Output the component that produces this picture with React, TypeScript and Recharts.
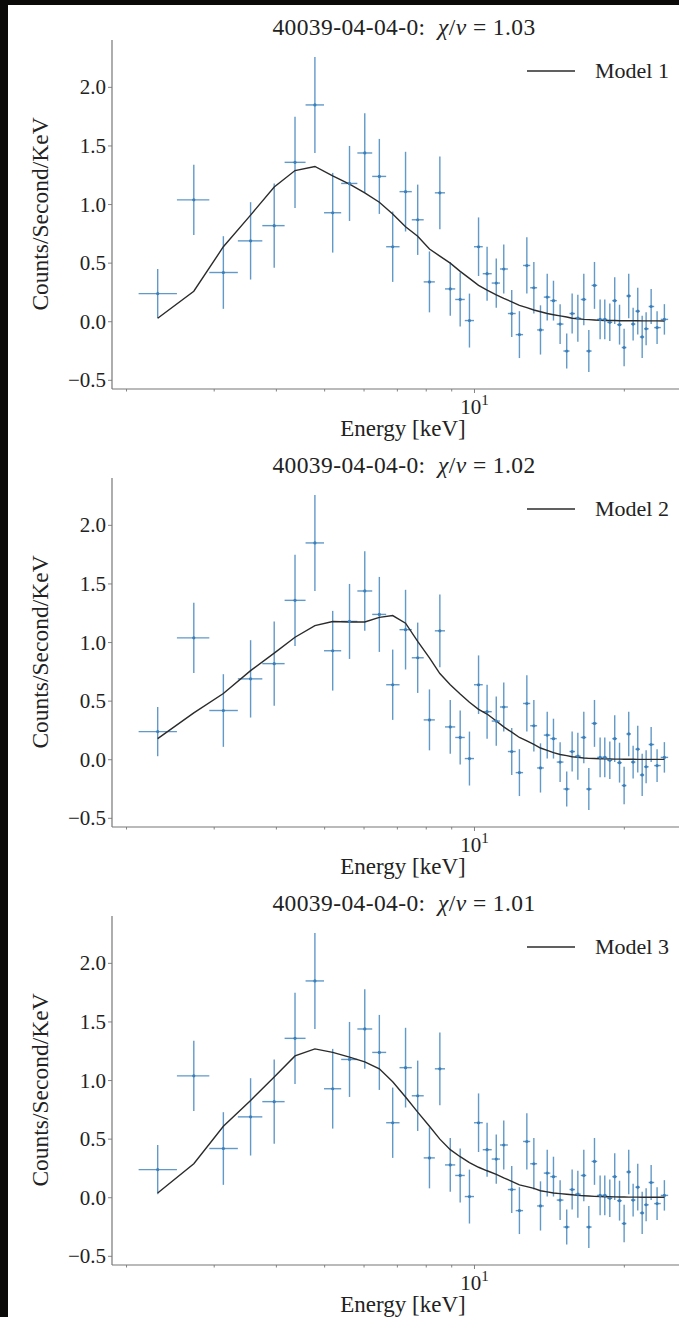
import React from "react";
import { ComposedChart, Scatter, ErrorBar, Line, XAxis, YAxis, Legend } from "recharts";

// bin centres [keV] and bin edges
const energy = [
  2.31, 2.73, 3.13, 3.55, 3.96, 4.36, 4.78, 5.19, 5.61, 6.02,
  6.44, 6.85, 7.27, 7.69, 8.12, 8.52, 8.94, 9.36, 9.77, 10.19,
  10.6, 11.06, 11.45, 11.88, 12.31, 12.74, 13.16, 13.57, 14.0, 14.41,
  14.86, 15.32, 15.71, 16.13, 16.58, 16.97, 17.42, 17.88, 18.27, 18.7,
  19.13, 19.56, 19.98, 20.41, 20.83, 21.28, 21.72, 22.12, 22.64, 23.27,
  24.07,
];
const binEdges = [
  2.115, 2.525, 2.933, 3.347, 3.748, 4.155, 4.578, 4.986, 5.398, 5.817,
  6.231, 6.646, 7.07, 7.483, 7.907, 8.325, 8.726, 9.147, 9.561, 9.977,
  10.39, 10.83, 11.25, 11.67, 12.1, 12.52, 12.94, 13.36, 13.78, 14.2,
  14.63, 15.09, 15.52, 15.92, 16.35, 16.77, 17.19, 17.64, 18.07, 18.48,
  18.91, 19.34, 19.76, 20.19, 20.62, 21.05, 21.49, 21.92, 22.38, 22.96,
  23.67, 24.49,
];
const counts = [
  0.24, 1.04, 0.42, 0.69, 0.82, 1.36, 1.85, 0.93, 1.18, 1.44,
  1.24, 0.64, 1.11, 0.87, 0.34, 1.1, 0.28, 0.19, 0.01, 0.64,
  0.41, 0.33, 0.45, 0.07, -0.11, 0.48, 0.29, -0.07, 0.21, 0.18,
  -0.02, -0.25, 0.07, 0.03, 0.19, -0.25, 0.31, 0.02, 0.02, -0.005,
  0.18, -0.025, -0.22, 0.22, -0.02, 0.09, -0.13, -0.06, 0.13, -0.05,
  0.02,
];
const countErr = [
  0.21, 0.3, 0.31, 0.33, 0.36, 0.39, 0.41, 0.34, 0.32, 0.34,
  0.32, 0.3, 0.34, 0.3, 0.26, 0.31, 0.23, 0.23, 0.23, 0.25,
  0.23, 0.21, 0.21, 0.2, 0.2, 0.24, 0.22, 0.21, 0.2, 0.17,
  0.17, 0.15, 0.17, 0.2, 0.22, 0.18, 0.2, 0.17, 0.17, 0.16,
  0.2, 0.17, 0.16, 0.19, 0.14, 0.2, 0.18, 0.14, 0.15, 0.14,
  0.13,
];
const model1 = [
  0.03, 0.26, 0.64, 0.91, 1.15, 1.29, 1.325, 1.245, 1.175, 1.1,
  1.02, 0.92, 0.81, 0.73, 0.62, 0.56, 0.5, 0.43, 0.37, 0.31,
  0.27, 0.23, 0.2, 0.17, 0.14, 0.12, 0.1, 0.085, 0.07, 0.06,
  0.05, 0.04, 0.03, 0.025, 0.02, 0.018, 0.015, 0.012, 0.011, 0.01,
  0.01, 0.009, 0.009, 0.008, 0.008, 0.008, 0.007, 0.007, 0.007, 0.007,
  0.006,
];
const model2 = [
  0.18, 0.4, 0.565, 0.76, 0.91, 1.045, 1.145, 1.18, 1.175, 1.175,
  1.215, 1.23, 1.165, 1.01, 0.87, 0.735, 0.64, 0.56, 0.49, 0.43,
  0.39, 0.33, 0.28, 0.235, 0.19, 0.16, 0.13, 0.1, 0.08, 0.06,
  0.045, 0.035, 0.025, 0.02, 0.015, 0.012, 0.01, 0.008, 0.007, 0.006,
  0.005, 0.005, 0.004, 0.004, 0.004, 0.003, 0.003, 0.003, 0.003, 0.003,
  0.003,
];
const model3 = [
  0.04, 0.29, 0.61, 0.83, 1.03, 1.21, 1.27, 1.24, 1.2, 1.16,
  1.1, 0.99, 0.86, 0.73, 0.61, 0.5, 0.41, 0.35, 0.3, 0.26,
  0.23, 0.2, 0.17, 0.14, 0.11, 0.095, 0.08, 0.06, 0.05, 0.04,
  0.035, 0.03, 0.025, 0.02, 0.017, 0.015, 0.012, 0.01, 0.009, 0.008,
  0.007, 0.006, 0.006, 0.005, 0.005, 0.005, 0.004, 0.004, 0.004, 0.004,
  0.004,
];
const modelNames = ["Model 1", "Model 2", "Model 3"];
const chiNu = ["1.03", "1.02", "1.01"];
const obsId = "40039-04-04-0";
const yTicks = [-0.5, 0, 0.5, 1, 1.5, 2];
const xTicks = [2, 3, 4, 5, 6, 7, 8, 9, 10, 20, 30];

const FONT = '"Liberation Serif", "DejaVu Serif", serif';
const BLUE = "#3a7fba";
const SPINE = "#777";
const CHART_W = 704;
const CHART_H = 438;

const points = energy.map((x, i) => ({
  x,
  y: counts[i],
  yErr: countErr[i],
  xErr: [x - binEdges[i], binEdges[i + 1] - x],
}));

function XTick({ x, y, payload }: any) {
  const major = payload.value === 10;
  return (
    <g>
      <line x1={x} x2={x} y1={y} y2={y + (major ? 4 : 2.5)} stroke={SPINE} strokeWidth={0.9} />
      {major && (
        <text x={x} y={y + 25} textAnchor="middle" fontFamily={FONT} fontSize={21} fill="#222">
          10<tspan dy={-9} fontSize={15}>1</tspan>
        </text>
      )}
    </g>
  );
}

function YTick({ x, y, payload }: any) {
  const v = payload.value;
  const label = (v < 0 ? "\u2212" : "") + Math.abs(v).toFixed(1);
  return (
    <g>
      <line x1={x - 4} x2={x} y1={y} y2={y} stroke={SPINE} strokeWidth={0.9} />
      <text x={x - 6} y={y + 7} textAnchor="end" fontFamily={FONT} fontSize={21} fill="#222">
        {label}
      </text>
    </g>
  );
}

function Dot(p: any) {
  return <circle cx={p.cx} cy={p.cy} r={1.6} fill={BLUE} />;
}

function Panel({ model, name, chi }: { model: number[]; name: string; chi: string }) {
  const data = points.map((p, i) => ({ ...p, m: model[i] }));
  return (
    <div style={{ position: "relative", width: CHART_W, height: CHART_H }}>
      <div
        style={{
          position: "absolute", left: 196, top: 9, width: 400, textAlign: "center",
          fontFamily: FONT, fontSize: 23.5, letterSpacing: 0.4, lineHeight: "26px", color: "#222", whiteSpace: "nowrap",
        }}
      >
        {obsId}:&nbsp; <i>χ</i>/<i>ν</i> = {chi}
      </div>
      <ComposedChart width={CHART_W} height={CHART_H} data={data} margin={{ top: 35, right: 0, bottom: 0, left: 0 }}>
        <XAxis
          dataKey="x" type="number" scale="log" domain={[1.87, 30]} allowDataOverflow
          ticks={xTicks} interval={0} height={54} tickSize={0} tickMargin={0} tickLine={false}
          tick={<XTick />} stroke={SPINE} strokeWidth={1.2}
        />
        <XAxis
          xAxisId="top" orientation="top" dataKey="x" type="number" scale="log" domain={[1.87, 30]}
          allowDataOverflow height={0} tick={false} tickLine={false} stroke="#555" strokeWidth={1.2}
        />
        <YAxis
          type="number" domain={[-0.574, 2.404]} allowDataOverflow ticks={yTicks} interval={0}
          width={104} tickSize={0} tickMargin={0} tickLine={false} tick={<YTick />}
          stroke={SPINE} strokeWidth={1.2}
        />
        <Scatter dataKey="y" fill={BLUE} shape={<Dot />} isAnimationActive={false}>
          <ErrorBar dataKey="xErr" direction="x" width={0} stroke={BLUE} strokeWidth={1.4} strokeOpacity={0.8} />
          <ErrorBar dataKey="yErr" direction="y" width={0} stroke={BLUE} strokeWidth={1.4} strokeOpacity={0.8} />
        </Scatter>
        <Line
          dataKey="m" name={name} type="linear" stroke="#2b2b2b" strokeWidth={1.4}
          dot={false} activeDot={false} isAnimationActive={false}
        />
        <Legend
          layout="horizontal" verticalAlign="middle" align="center"
          wrapperStyle={{ top: 53, left: 519, width: 180, height: 28 }}
          content={() => (
            <div style={{ display: "flex", alignItems: "center", fontFamily: FONT, fontSize: 22, color: "#222", lineHeight: "26px" }}>
              <svg width={48} height={4} style={{ display: "block" }}>
                <line x1={0} x2={48} y1={2} y2={2} stroke="#2b2b2b" strokeWidth={1.4} />
              </svg>
              <span style={{ marginLeft: 20, whiteSpace: "nowrap" }}>{name}</span>
            </div>
          )}
        />
      </ComposedChart>
      <div
        style={{
          position: "absolute", left: 195, top: 411, width: 400, textAlign: "center",
          fontFamily: FONT, fontSize: 23, lineHeight: "26px", color: "#222",
        }}
      >
        Energy [keV]
      </div>
      <div
        style={{
          position: "absolute", left: 32, top: 209, transform: "translate(-50%, -50%) rotate(-90deg)",
          fontFamily: FONT, fontSize: 23.5, lineHeight: "26px", color: "#222", whiteSpace: "nowrap",
        }}
      >
        Counts/Second/KeV
      </div>
    </div>
  );
}

export default function App() {
  const models = [model1, model2, model3];
  return (
    <div style={{ position: "absolute", left: 0, top: 0, width: 679, height: 1317, background: "#0c0a08", overflow: "hidden" }}>
      <div style={{ position: "absolute", left: 8, top: 5, width: 671, height: 1312, background: "#fff", overflow: "hidden" }}>
        {models.map((m, k) => (
          <Panel key={k} model={m} name={modelNames[k]} chi={chiNu[k]} />
        ))}
      </div>
    </div>
  );
}
